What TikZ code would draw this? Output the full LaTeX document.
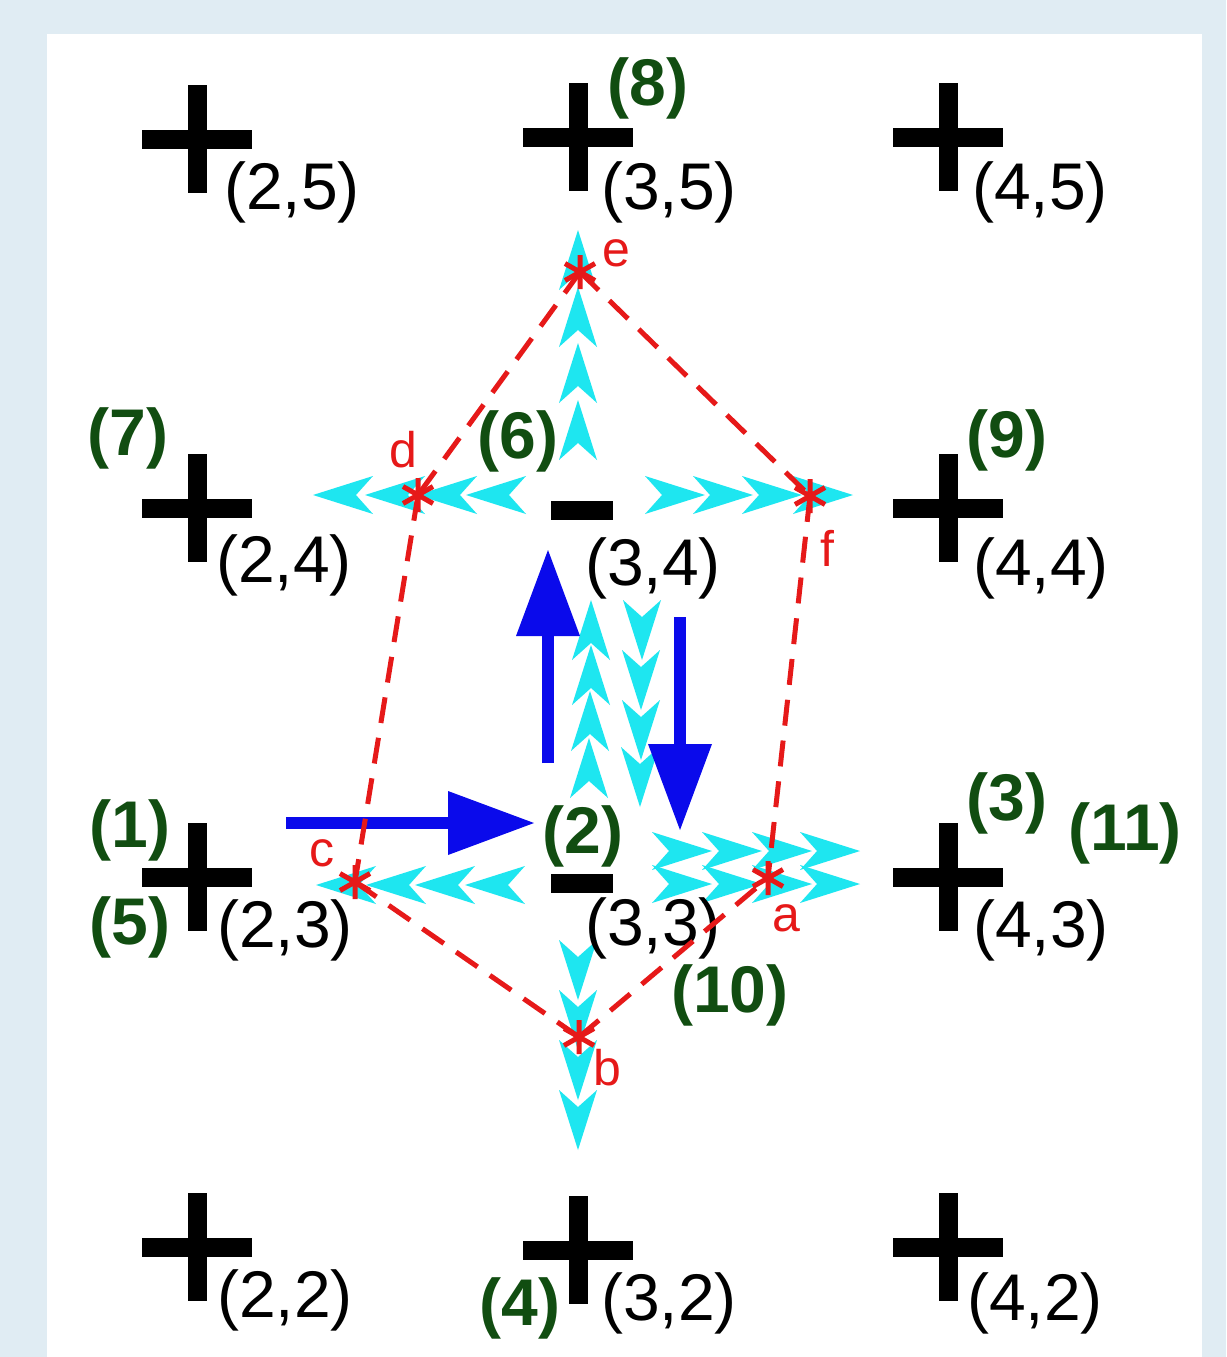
\documentclass[tikz,border=0pt]{standalone}
\usepackage{fontspec}
\setmainfont{Liberation Sans}
\usetikzlibrary{arrows.meta}
\definecolor{bgblue}{HTML}{E0ECF3}
\definecolor{flowcyan}{HTML}{1EE6F0}
\definecolor{flowblue}{HTML}{0A0AEB}
\definecolor{idgreen}{HTML}{114D11}
\definecolor{ptred}{HTML}{E61919}

\begin{document}
\begin{tikzpicture}[x=1pt, y=-1pt,
    coord/.style={font=\fontsize{66}{66}\selectfont, inner sep=0pt},
    num/.style={font=\fontsize{66}{66}\selectfont\bfseries, text=idgreen, inner sep=0pt},
    tag/.style={font=\fontsize{50}{50}\selectfont, text=ptred, inner sep=0pt},
    link/.style={ptred, line width=5pt, dash pattern=on 26pt off 15pt},
    arr/.style={flowblue, line width=12pt, -{Triangle[length=86pt, width=64pt, line width=0pt]}},
    plus/.pic={\fill (-55,-9.5) rectangle (55,9.5); \fill (-9.5,-54) rectangle (9.5,54);},
    minus/.pic={\fill (-31,-9.5) rectangle (31,9.5);},
    chev/.pic={\fill[flowcyan] (0,0) -- (-60,-19) -- (-43,0) -- (-60,19) -- cycle;},
    star/.pic={\draw[ptred, line width=5pt] (0,-17) -- (0,17) (-15,-8.5) -- (15,8.5) (-15,8.5) -- (15,-8.5);}
]
\fill[bgblue] (0,0) rectangle (1226,1357);
\fill[white] (47,34) rectangle (1202,1357);

\foreach \y in {230,287,343,400} \pic[rotate=90] at (578,\y) {chev};
\foreach \x in {313,365,417,466} \pic[rotate=180] at (\x,495) {chev};
\foreach \x in {705,753,802,853} \pic at (\x,495) {chev};
\foreach \x/\y in {591/600,591/645,590/691,589/738} \pic[rotate=90] at (\x,\y) {chev};
\foreach \x/\y in {642/660,641/710,641/760,640/807} \pic[rotate=-90] at (\x,\y) {chev};
\foreach \x in {316,366,415,465} \pic[rotate=180] at (\x,885) {chev};
\foreach \x in {712,762,812,860} {\pic at (\x,851) {chev}; \pic at (\x,884) {chev};}
\foreach \y in {1000,1050,1100,1150} \pic[rotate=-90] at (578,\y) {chev};

\coordinate (in0) at (286,823);
\coordinate (in1) at (534,823);
\coordinate (up0) at (548,763);
\coordinate (up1) at (548,550);
\coordinate (dn0) at (680,617);
\coordinate (dn1) at (680,830);
\draw[arr] (in0) -- (in1);
\draw[arr] (up0) -- (up1);
\draw[arr] (dn0) -- (dn1);

\pic at (197,139) {plus};
\pic at (578,137) {plus};
\pic at (948,137) {plus};
\pic at (197,508) {plus};
\pic at (948,508) {plus};
\pic at (197,877) {plus};
\pic at (948,877) {plus};
\pic at (197,1247) {plus};
\pic at (578,1250) {plus};
\pic at (948,1247) {plus};
\pic at (582,510) {minus};
\pic at (582,883) {minus};

\node[coord] (c25) at (292,192) {(2,5)};
\node[coord] (c35) at (669,192) {(3,5)};
\node[coord] (c45) at (1040,192) {(4,5)};
\node[coord] (c24) at (284,565) {(2,4)};
\node[coord] (c34) at (653,568) {(3,4)};
\node[coord] (c44) at (1041,568) {(4,4)};
\node[coord] (c23) at (285,930) {(2,3)};
\node[coord] (c33) at (653,928) {(3,3)};
\node[coord] (c43) at (1041,930) {(4,3)};
\node[coord] (c22) at (285,1300) {(2,2)};
\node[coord] (c32) at (669,1303) {(3,2)};
\node[coord] (c42) at (1035,1303) {(4,2)};

\node[num] (n1) at (130,830) {(1)};
\node[num] (n2) at (583,836) {(2)};
\node[num] (n3) at (1007,803) {(3)};
\node[num] (n4) at (520,1308) {(4)};
\node[num] (n5) at (130,927) {(5)};
\node[num] (n6) at (518,441) {(6)};
\node[num] (n7) at (128,438) {(7)};
\node[num] (n8) at (648,88) {(8)};
\node[num] (n9) at (1007,440) {(9)};
\node[num] (n10) at (730,995) {(10)};
\node[num] (n11) at (1125,833) {(11)};

\coordinate (a) at (768,878);
\coordinate (b) at (579,1037);
\coordinate (c) at (355,882);
\coordinate (d) at (418,495);
\coordinate (e) at (580,272);
\coordinate (f) at (810,496);
\draw[link] (e) -- (d);
\draw[link] (e) -- (f);
\draw[link] (d) -- (c);
\draw[link] (f) -- (a);
\draw[link] (c) -- (b);
\draw[link] (b) -- (a);
\foreach \p in {a,b,c,d,e,f} \pic at (\p) {star};
\node[tag] (ta) at (786,918) {a};
\node[tag] (tb) at (607,1068) {b};
\node[tag] (tc) at (322,853) {c};
\node[tag] (td) at (403,450) {d};
\node[tag] (te) at (616,253) {e};
\node[tag] (tf) at (827,548) {f};
\end{tikzpicture}
\end{document}
